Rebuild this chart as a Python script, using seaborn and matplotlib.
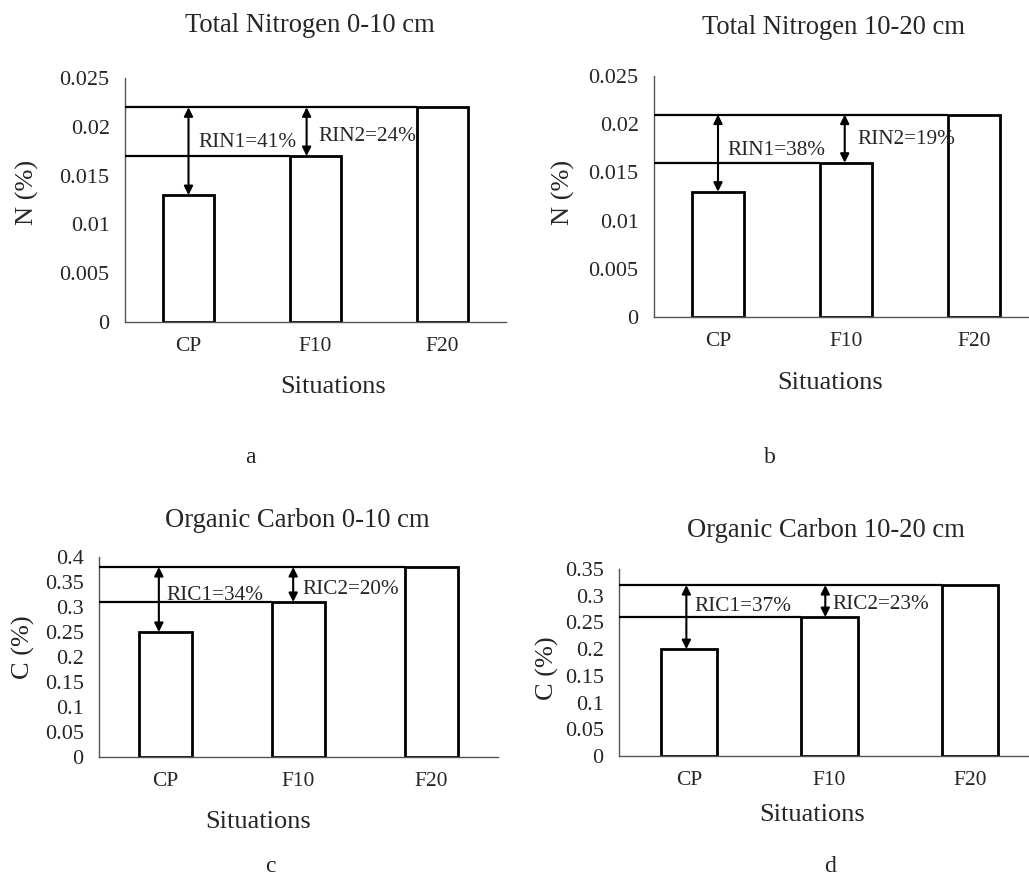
import numpy as np
import seaborn as sns
import matplotlib.pyplot as plt
from matplotlib.ticker import FuncFormatter, FixedLocator

sns.set_style("white")
plt.rcParams['font.family'] = ['Liberation Serif', 'DejaVu Serif']

situations = ["CP", "F10", "F20"]
n_0_10 = [0.013, 0.017, 0.022]
n_10_20 = [0.013, 0.016, 0.021]
c_0_10 = [0.25, 0.31, 0.38]
c_10_20 = [0.20, 0.26, 0.32]

titles = ["Total Nitrogen 0-10 cm", "Total Nitrogen 10-20 cm",
          "Organic Carbon 0-10 cm", "Organic Carbon 10-20 cm"]
ylabels = ["N (%)", "N (%)", "C (%)", "C (%)"]
ymax = [0.025, 0.025, 0.4, 0.35]
ystep = [0.005, 0.005, 0.05, 0.05]
rel1 = ["RIN1=41%", "RIN1=38%", "RIC1=34%", "RIC1=37%"]
rel2 = ["RIN2=24%", "RIN2=19%", "RIC2=20%", "RIC2=23%"]
letters = ["a", "b", "c", "d"]

values = [n_0_10, n_10_20, c_0_10, c_10_20]

W, H = 1029, 880
fig = plt.figure(figsize=(W / 100, H / 100), dpi=100)


def box(l, r, t, b):
    return [l / W, 1 - b / H, (r - l) / W, (b - t) / H]


def fx(x, y):
    return x / W, 1 - y / H


# axes boxes in pixels: left, right, top, bottom
boxes = [(125, 506, 78, 322), (654, 1038, 76, 317),
         (99, 498, 557, 757), (619, 1040, 569, 756)]
# text placement: (label1 x, label1 y), (label2 x, label2 y), arrow x's
txt_pos = [((0.08, 0.0184), (1.02, 0.0190), (0.0, 0.93)),
           ((0.07, 0.0173), (1.09, 0.0184), (0.0, 0.99)),
           ((0.01, 0.324), (1.03, 0.336), (-0.05, 0.96)),
           ((0.04, 0.279), (1.02, 0.283), (-0.02, 0.97))]
title_xy = [(310, 26), (833, 27), (297, 520), (826, 530)]
ylab_xy = [(27, 192), (563, 192), (23, 647), (547, 668)]
xlab_xy = [(333, 387), (830, 383), (258, 822), (812, 815)]
letter_xy = [(250, 457), (770, 457), (270, 866), (830, 866)]

bw = 0.4
for i in range(4):
    ax = fig.add_axes(box(*boxes[i]))
    vals = values[i]
    sns.barplot(x=situations, y=vals, color="white", edgecolor="black",
                linewidth=2, width=bw, saturation=1, ax=ax)
    ax.set_xlim(-0.5, 2.5)
    ax.set_ylim(0, ymax[i])
    ax.yaxis.set_major_locator(FixedLocator(np.arange(0, ymax[i] + 1e-9, ystep[i])))
    ax.yaxis.set_major_formatter(FuncFormatter(lambda v, p: f"{round(v, 4):g}"))
    ax.set_xticks([0, 1, 2])
    ax.set_xticklabels(situations)
    ax.set_xticks([-0.5, 0.5, 1.5, 2.5], minor=True)
    ax.tick_params(axis="x", which="major", length=0, pad=11, labelsize=15.5)
    ax.tick_params(axis="x", which="minor", length=5, width=1, color="#555555", direction="out")
    ax.tick_params(axis="y", length=6, width=1, color="#555555", direction="out", pad=5, labelsize=16)
    for s in ["top", "right"]:
        ax.spines[s].set_visible(False)
    for s in ["left", "bottom"]:
        ax.spines[s].set_color("#555555")
        ax.spines[s].set_linewidth(1)
    ax.set_xlabel("")
    ax.set_ylabel("")

    cp, f10, f20 = vals
    ax.hlines(f20, -0.5, 2 - bw / 2, color="black", lw=1.6, zorder=3)
    ax.hlines(f10, -0.5, 1 - bw / 2, color="black", lw=1.6, zorder=3)
    (t1x, t1y), (t2x, t2y), (a1, a2) = txt_pos[i]
    arrow = dict(arrowstyle="<|-|>", color="black", lw=1.5, shrinkA=0, shrinkB=0,
                 mutation_scale=13)
    ax.annotate("", xy=(a1, cp), xytext=(a1, f20), arrowprops=arrow, zorder=4)
    ax.annotate("", xy=(a2, f10), xytext=(a2, f20), arrowprops=arrow, zorder=4)
    ax.text(t1x, t1y, rel1[i], fontsize=15.3, va="center", ha="left", zorder=2)
    ax.text(t2x, t2y, rel2[i], fontsize=15.3, va="center", ha="left", zorder=2)

    fig.text(*fx(*title_xy[i]), titles[i], fontsize=19.2, ha="center", va="center")
    fig.text(*fx(*ylab_xy[i]), ylabels[i], fontsize=19, ha="center", va="center", rotation=90)
    fig.text(*fx(*xlab_xy[i]), "Situations", fontsize=19, ha="center", va="center")
    fig.text(*fx(*letter_xy[i]), letters[i], fontsize=17, ha="center", va="center")

fig.savefig("out.png", dpi=100, facecolor="white")
